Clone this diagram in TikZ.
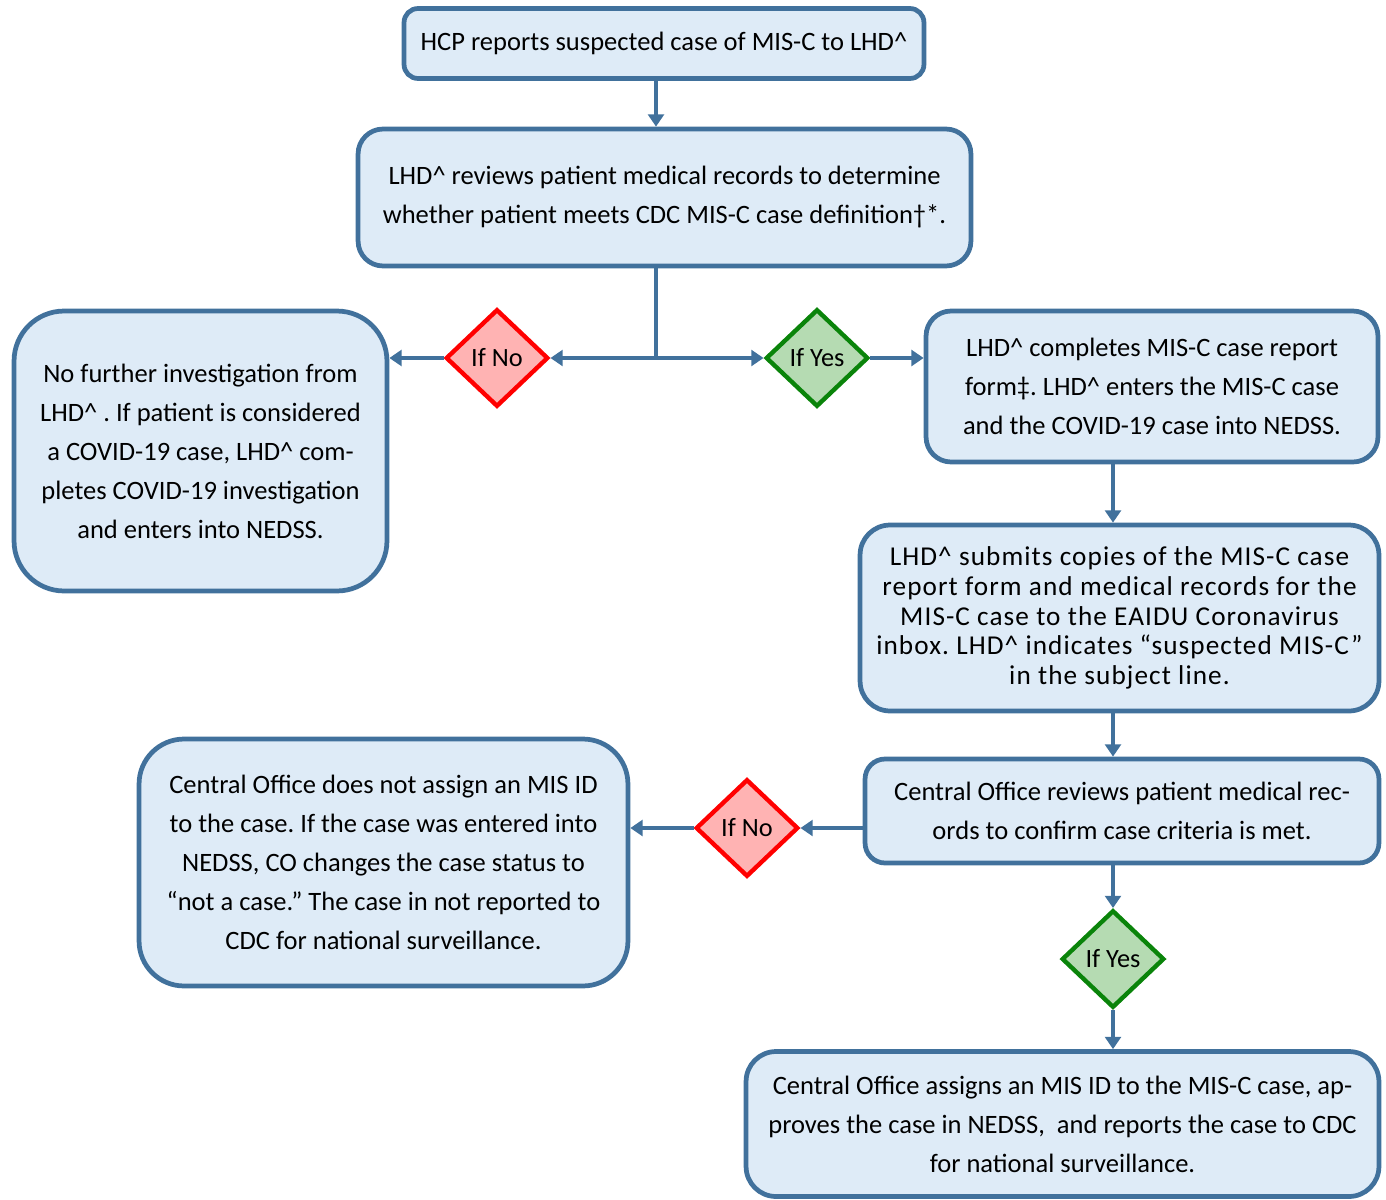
\documentclass[tikz,border=0pt]{standalone}
\usepackage{fontspec}
\setmainfont{Carlito}
\usepackage{tikz}
\usetikzlibrary{shapes.geometric,arrows.meta}

\definecolor{boxline}{HTML}{41719C}
\definecolor{boxfill}{HTML}{DEEBF7}
\definecolor{noline}{HTML}{FF0000}
\definecolor{nofill}{HTML}{FFB3B3}
\definecolor{yesline}{HTML}{0A840A}
\definecolor{yesfill}{HTML}{B5DBB2}

\newcommand{\lhdc}{LHD\textasciicircum}
\frenchspacing

\tikzset{
  stepbox/.style={draw=boxline, fill=boxfill, line width=2.7pt, align=center,
    inner sep=0pt, font=\fontsize{15.1}{22.2}\selectfont},
  nodiam/.style={diamond, draw=noline, fill=nofill, line width=2.5pt, inner sep=0pt,
    minimum width=2.05cm, minimum height=1.95cm, font=\fontsize{15}{17}\selectfont},
  yesdiam/.style={nodiam, draw=yesline, fill=yesfill},
  arr/.style={draw=boxline, line width=2.4pt, -{Triangle[length=7pt,width=9pt]}},
  link/.style={draw=boxline, line width=2.4pt}
}

\begin{document}
\begin{tikzpicture}[x=0.02cm, y=-0.02cm]
\useasboundingbox (0,0) rectangle (1386,1200);

% Boxes
\node[stepbox, rounded corners=0.28cm, minimum width=10.4cm, minimum height=1.4cm] (report) at (664,43.5)
  {HCP reports suspected case of MIS-C to \lhdc};
\node[stepbox, rounded corners=0.5cm, minimum width=12.26cm, minimum height=2.74cm] (review) at (664.5,197.5)
  {\lhdc{} reviews patient medical records to determine\\
   whether patient meets CDC MIS-C case definition†*.};
\node[stepbox, rounded corners=1cm, minimum width=7.46cm, minimum height=5.6cm] (nofurther) at (200.5,451)
  {No further investigation from\\ \lhdc{} . If patient is considered\\
   a COVID-19 case, \lhdc{} com-\\ pletes COVID-19 investigation\\ and enters into NEDSS.};
\node[stepbox, rounded corners=0.5cm, minimum width=9.04cm, minimum height=3.02cm] (complete) at (1152,386.5)
  {\lhdc{} completes MIS-C case report\\ form‡. \lhdc{} enters the MIS-C case\\
   and the COVID-19 case into NEDSS.};
\node[stepbox, rounded corners=0.6cm, minimum width=10.38cm, minimum height=3.72cm,
  font=\fontsize{15.5}{17}\selectfont\addfontfeature{LetterSpace=4}] (submit) at (1119.5,618)
  {\lhdc{} submits copies of the MIS-C case\\ report form and medical records for the\\
   MIS-C case to the EAIDU Coronavirus\\ inbox. \lhdc{} indicates “suspected MIS-C”\\
   in the subject line.};
\node[stepbox, rounded corners=0.4cm, minimum width=10.28cm, minimum height=2.08cm] (coreview) at (1122,811)
  {Central Office reviews patient medical rec-\\ ords to confirm case criteria is met.};
\node[stepbox, rounded corners=0.9cm, minimum width=9.78cm, minimum height=4.94cm] (notcase) at (383.5,862.5)
  {Central Office does not assign an MIS ID\\ to the case. If the case was entered into\\
   NEDSS, CO changes the case status to\\ “not a case.” The case in not reported to\\
   CDC for national surveillance.};
\node[stepbox, rounded corners=0.6cm, minimum width=12.66cm, minimum height=2.9cm] (assign) at (1062.5,1124)
  {Central Office assigns an MIS ID to the MIS-C case, ap-\\
   proves the case in NEDSS,~ and reports the case to CDC\\ for national surveillance.};

% Decisions
\node[nodiam] (no1) at (497,358) {If No};
\node[yesdiam] (yes1) at (817,358) {If Yes};
\node[nodiam] (no2) at (747,828) {If No};
\node[yesdiam] (yes2) at (1113,959) {If Yes};

\coordinate (split) at (656,358); % fork under the review box

% Arrows
\draw[arr] (report.south -| split) -- (review.north -| split);
\draw[link] (review.south -| split) -- (split);
\draw[arr] (split) -- (no1.east);
\draw[arr] (split) -- (yes1.west);
\draw[arr] (no1.west) -- (nofurther.east |- no1);
\draw[arr] (yes1.east) -- (complete.west |- yes1);
\draw[arr] (complete.south -| yes2) -- (submit.north -| yes2);
\draw[arr] (submit.south -| yes2) -- (coreview.north -| yes2);
\draw[arr] (coreview.west |- no2) -- (no2.east);
\draw[arr] (no2.west) -- (notcase.east |- no2);
\draw[arr] (coreview.south -| yes2) -- (yes2.north);
\draw[arr] (yes2.south) -- (assign.north -| yes2);
\end{tikzpicture}
\end{document}
